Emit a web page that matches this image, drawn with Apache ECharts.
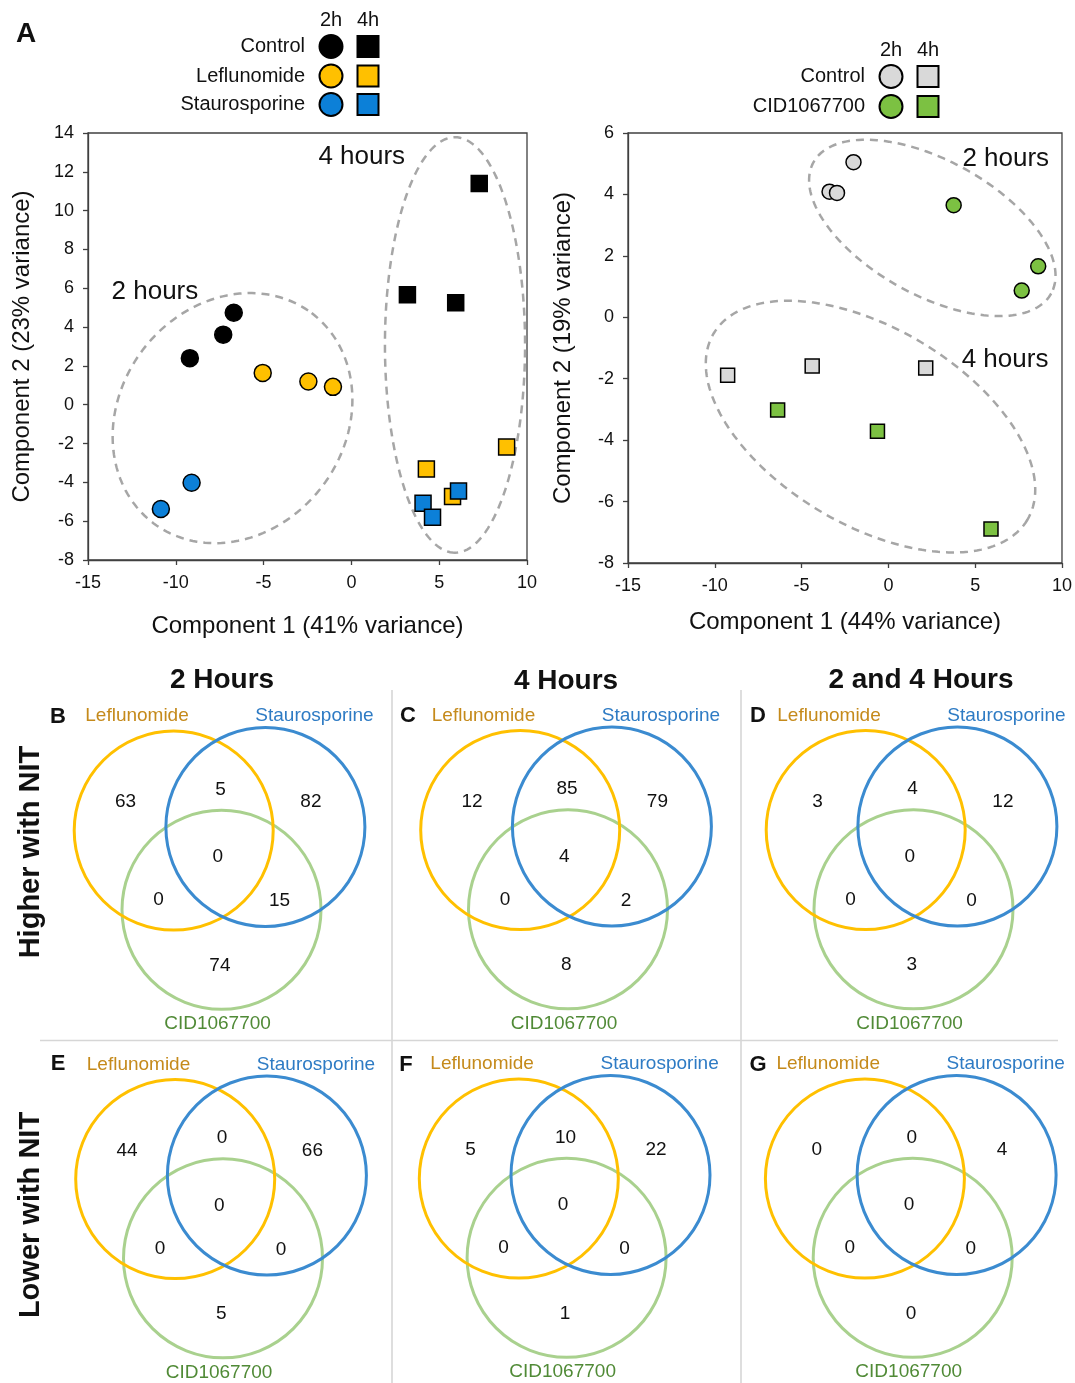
<!DOCTYPE html>
<html><head><meta charset="utf-8">
<script src="https://cdn.jsdelivr.net/npm/echarts@6/dist/echarts.min.js"></script>
<style>html,body{margin:0;padding:0;background:#fff}#c{width:1075px;height:1383px}</style>
</head><body><div id="c"></div>
<script>
// ================= DATA =================
// Panel A left: PCA scores [Component1, Component2]
const ctrl2hL = [[-6.70,4.74],[-7.30,3.61],[-9.20,2.40]];
const lef2hL  = [[-5.05,1.64],[-2.45,1.20],[-1.05,0.92]];
const sta2hL  = [[-9.10,-4.02],[-10.85,-5.37]];
const ctrl4hL = [[7.28,11.40],[3.19,5.66],[5.94,5.26]];
const lef4hL  = [[4.27,-3.31],[8.84,-2.18],[5.76,-4.73]];
const sta4hL  = [[4.08,-5.08],[4.62,-5.80],[6.10,-4.45]];
// Panel A right
const ctrl2hR = [[-2.01,5.05],[-3.39,4.09],[-2.96,4.05]];
const cid2hR  = [[3.76,3.65],[8.63,1.66],[7.68,0.87]];
const ctrl4hR = [[-9.26,-1.89],[-4.39,-1.59],[2.15,-1.65]];
const cid4hR  = [[-6.38,-3.02],[-0.63,-3.71],[5.91,-6.89]];
// Axis ticks
const xTicks = {min:-15, max:10, interval:5};
const yTicksL = {min:-8, max:14, interval:2};
const yTicksR = {min:-8, max:6, interval:2};
// Venn counts, region order: Lef only, Lef∩Sta, Sta only, all three, Lef∩CID, Sta∩CID, CID only
const setNames = ['Leflunomide','Staurosporine','CID1067700'];
const vennB = [63,5,82,0,0,15,74];
const vennC = [12,85,79,4,0,2,8];
const vennD = [3,4,12,0,0,0,3];
const vennE = [44,0,66,0,0,0,5];
const vennF = [5,10,22,0,0,0,1];
const vennG = [0,0,4,0,0,0,0];

// ================= LAYOUT / STYLE =================
const FONT = '"Liberation Sans", Arial, sans-serif';
// cluster ellipses [cx, cy, semiMajor, semiMinor (x-units), angleDeg]
const ELL_L = [[-6.77,-0.69,7.49,6.42,-53],[5.90,3.08,11.83,3.99,90]];
const ELL_R = [[2.53,2.91,7.82,3.88,28.9],[-1.03,-3.56,10.51,5.67,30.7]];
const TXT_L = [[0.59,12.76,'4 hours'],[-11.19,5.84,'2 hours']];
const TXT_R = [[6.76,5.17,'2 hours'],[6.72,-1.40,'4 hours']];
// venn geometry in panel units (1 unit = 100px); set order: Lef, Sta, CID
const VENN_CIRCLES = [[-0.468,0.254,0.995],[0.449,0.29,0.995],[0.01,-0.538,0.995]];
const DRAW_ORDER = [2,0,1];
const VENN_REGION_POS = [[-0.95,0.54],[0,0.665],[0.904,0.54],[-0.026,-0.01],[-0.62,-0.44],[0.59,-0.45],[-0.006,-1.095]];
const VENN_NAME_POS = [[-0.835,1.40],[0.94,1.40],[-0.03,-1.68]];
const CIRCLE_COL = ['#ffc000','#3b8bd0','#a9d18e'];
const NAME_COL = ['#c58a1b','#2e7bc4','#508a36'];
const VENN_PANELS = [
  {id:'B', cx:220.5, cy:856, counts:vennB, lx:58, ly:717},
  {id:'C', cx:567, cy:855.5, counts:vennC, lx:408, ly:716},
  {id:'D', cx:912.5, cy:855.5, counts:vennD, lx:758, ly:716},
  {id:'E', cx:222, cy:1204.5, counts:vennE, lx:58, ly:1064},
  {id:'F', cx:565.6, cy:1204, counts:vennF, lx:406, ly:1065},
  {id:'G', cx:911.7, cy:1204, counts:vennG, lx:758, ly:1065}
];

const chart = echarts.init(document.getElementById('c'));

const axisStyle = {
  axisLine:{show:true, onZero:false, lineStyle:{color:'#404040', width:1.3}},
  axisTick:{show:true, inside:false, length:5, lineStyle:{color:'#404040', width:1.3}},
  axisLabel:{color:'#111', fontSize:18, fontFamily:FONT, margin:14},
  splitLine:{show:false},
  nameLocation:'middle',
  nameMoveOverlap:false,
  nameTextStyle:{fontSize:24, fontFamily:FONT, color:'#111'}
};

const grids = [
  {left:88, top:133, width:439, height:427, show:true, borderColor:'#404040', borderWidth:1.3, backgroundColor:'transparent'},
  {left:628, top:133, width:434, height:430, show:true, borderColor:'#404040', borderWidth:1.3, backgroundColor:'transparent'}
];
const xAxes = [
  Object.assign({gridIndex:0, type:'value', name:'Component 1 (41% variance)', nameGap:54}, xTicks, axisStyle),
  Object.assign({gridIndex:1, type:'value', name:'Component 1 (44% variance)', nameGap:47}, xTicks, axisStyle)
];
const yAxes = [
  Object.assign({gridIndex:0, type:'value', name:'Component 2 (23% variance)', nameGap:54}, yTicksL, axisStyle),
  Object.assign({gridIndex:1, type:'value', name:'Component 2 (19% variance)', nameGap:53}, yTicksR, axisStyle)
];
VENN_PANELS.forEach((p,i)=>{
  grids.push({left:p.cx-150, top:p.cy-150, width:300, height:300});
  xAxes.push({gridIndex:i+2, type:'value', min:-1.5, max:1.5, show:false});
  yAxes.push({gridIndex:i+2, type:'value', min:-1.5, max:1.5, show:false});
});

function sc(ai, data, symbol, size, color, z){
  return {type:'scatter', xAxisIndex:ai, yAxisIndex:ai, data, symbol, symbolSize:size,
    itemStyle:{color, borderColor:'#000', borderWidth:1.5, opacity:1}, z:z||3, silent:true};
}
function ellipseSeries(ai, ells){
  return {type:'custom', xAxisIndex:ai, yAxisIndex:ai, data:ells, silent:true, z:2,
    renderItem:(params, api)=>{
      const c = api.coord([api.value(0), api.value(1)]);
      const a = api.size([api.value(2),0])[0], b = api.size([api.value(3),0])[0];
      const th = api.value(4)*Math.PI/180;
      const pts = [];
      for(let k=0;k<180;k++){const t=k/180*2*Math.PI;
        pts.push([c[0]+a*Math.cos(t)*Math.cos(th)-b*Math.sin(t)*Math.sin(th),
                  c[1]+a*Math.cos(t)*Math.sin(th)+b*Math.sin(t)*Math.cos(th)]);}
      return {type:'polygon', shape:{points:pts}, style:{fill:null, stroke:'#a6a6a6', lineWidth:2.5, lineDash:[8,6]}};
    }};
}
function textSeries(ai, txts, size){
  return {type:'custom', xAxisIndex:ai, yAxisIndex:ai, data:txts, silent:true, z:4,
    renderItem:(params, api)=>{
      const d = txts[params.dataIndex];
      const c = api.coord([d[0], d[1]]);
      return {type:'text', x:c[0], y:c[1], style:{text:d[2], fill:'#111', font:size+'px '+FONT, align:'center', verticalAlign:'middle'}};
    }};
}

const series = [
  ellipseSeries(0, ELL_L), textSeries(0, TXT_L, 26),
  sc(0, ctrl2hL, 'circle', 17, '#000'), sc(0, lef2hL, 'circle', 17, '#ffc000'), sc(0, sta2hL, 'circle', 17, '#0c80d8'),
  sc(0, ctrl4hL, 'rect', 16, '#000'), sc(0, lef4hL, 'rect', 16, '#ffc000', 3), sc(0, sta4hL, 'rect', 16, '#0c80d8', 4),
  ellipseSeries(1, ELL_R), textSeries(1, TXT_R, 26),
  sc(1, ctrl2hR, 'circle', 15, '#d9d9d9'), sc(1, cid2hR, 'circle', 15, '#7cc142'),
  sc(1, ctrl4hR, 'rect', 14, '#d9d9d9'), sc(1, cid4hR, 'rect', 14, '#7cc142')
];

VENN_PANELS.forEach((p,i)=>{
  const ai = i+2;
  series.push({type:'custom', xAxisIndex:ai, yAxisIndex:ai, data:DRAW_ORDER.map(k=>VENN_CIRCLES[k]), silent:true, z:2,
    renderItem:(params, api)=>{
      const k = DRAW_ORDER[params.dataIndex];
      const c = api.coord([api.value(0), api.value(1)]);
      const r = api.size([api.value(2),0])[0];
      const np = api.coord(VENN_NAME_POS[k]);
      return {type:'group', children:[
        {type:'circle', shape:{cx:c[0], cy:c[1], r}, style:{fill:null, stroke:CIRCLE_COL[k], lineWidth:3}},
        {type:'text', x:np[0], y:np[1], style:{text:setNames[k], fill:NAME_COL[k], font:'19px '+FONT, align:'center', verticalAlign:'middle'}}
      ]};
    }});
  series.push({type:'custom', xAxisIndex:ai, yAxisIndex:ai, silent:true, z:4,
    data:p.counts.map((v,k)=>[VENN_REGION_POS[k][0], VENN_REGION_POS[k][1], v]),
    renderItem:(params, api)=>{
      const c = api.coord([api.value(0), api.value(1)]);
      return {type:'text', x:c[0], y:c[1], style:{text:String(api.value(2)), fill:'#111', font:'19px '+FONT, align:'center', verticalAlign:'middle'}};
    }});
});

// ---------- graphics: legends, titles, separators ----------
const g = [];
function txt(x,y,s,font,fill,align,rot){
  g.push({type:'text', x, y, rotation:rot||0, style:{text:s, font, fill:fill||'#111', align:align||'center', verticalAlign:'middle'}});
}
function legend(x2, x4, hy, textRight, rows, r, sq){
  txt(x2, hy, '2h', '20px '+FONT); txt(x4, hy, '4h', '20px '+FONT);
  rows.forEach(rw=>{
    txt(textRight, rw.y, rw.label, '20px '+FONT, '#111', 'right');
    g.push({type:'circle', shape:{cx:x2, cy:rw.y, r}, style:{fill:rw.color, stroke:'#000', lineWidth:2}});
    g.push({type:'rect', shape:{x:x4-sq/2, y:rw.y-sq/2, width:sq, height:sq}, style:{fill:rw.color, stroke:'#000', lineWidth:2}});
  });
}
txt(26, 34, 'A', 'bold 28px '+FONT);
legend(331, 368, 20, 305, [{label:'Control', y:46.5, color:'#000'},{label:'Leflunomide', y:76, color:'#ffc000'},{label:'Staurosporine', y:104.5, color:'#0c80d8'}], 11.5, 21);
legend(891, 928, 50, 865, [{label:'Control', y:76.5, color:'#d9d9d9'},{label:'CID1067700', y:106.5, color:'#7cc142'}], 11.5, 21);

txt(222, 680, '2 Hours', 'bold 28px '+FONT);
txt(566, 681, '4 Hours', 'bold 28px '+FONT);
txt(921, 680, '2 and 4 Hours', 'bold 28px '+FONT);
txt(31, 852, 'Higher with NIT', 'bold 29px '+FONT, '#111', 'center', Math.PI/2);
txt(31, 1215, 'Lower with NIT', 'bold 29px '+FONT, '#111', 'center', Math.PI/2);
VENN_PANELS.forEach(p=> txt(p.lx, p.ly, p.id, 'bold 22px '+FONT));
const sepStyle = {stroke:'#d6d6d6', lineWidth:1.6};
g.push({type:'line', shape:{x1:392, y1:690, x2:392, y2:1383}, style:sepStyle});
g.push({type:'line', shape:{x1:741, y1:690, x2:741, y2:1383}, style:sepStyle});
g.push({type:'line', shape:{x1:40, y1:1040.5, x2:1058, y2:1040.5}, style:sepStyle});

chart.setOption({
  animation:false,
  backgroundColor:'#fff',
  textStyle:{fontFamily:FONT},
  grid:grids, xAxis:xAxes, yAxis:yAxes, series, graphic:g
});
</script></body></html>
